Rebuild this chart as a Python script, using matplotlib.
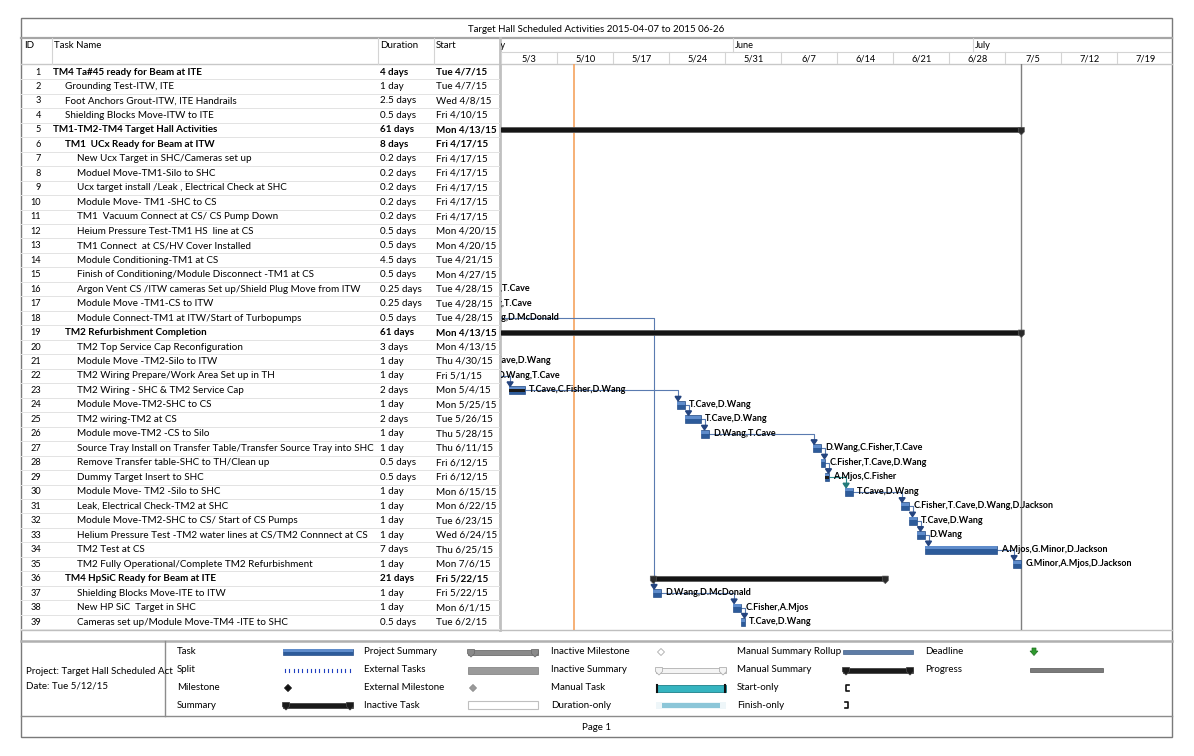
import datetime as dt
import matplotlib
matplotlib.use("Agg")
import matplotlib.pyplot as plt
import matplotlib.dates as mdates
from matplotlib.patches import Polygon, Rectangle

plt.rcParams['font.family'] = ['Lato', 'DejaVu Sans']

task_names = [
    "TM4 Ta#45 ready for Beam at ITE",
    "Grounding Test-ITW, ITE",
    "Foot Anchors Grout-ITW, ITE Handrails",
    "Shielding Blocks Move-ITW to ITE",
    "TM1-TM2-TM4 Target Hall Activities",
    "TM1  UCx Ready for Beam at ITW",
    "New Ucx Target in SHC/Cameras set up",
    "Moduel Move-TM1-Silo to SHC",
    "Ucx target install /Leak , Electrical Check at SHC",
    "Module Move- TM1 -SHC to CS",
    "TM1  Vacuum Connect at CS/ CS Pump Down",
    "Heium Pressure Test-TM1 HS  line at CS",
    "TM1 Connect  at CS/HV Cover Installed",
    "Module Conditioning-TM1 at CS",
    "Finish of Conditioning/Module Disconnect -TM1 at CS",
    "Argon Vent CS /ITW cameras Set up/Shield Plug Move from ITW",
    "Module Move -TM1-CS to ITW",
    "Module Connect-TM1 at ITW/Start of Turbopumps",
    "TM2 Refurbishment Completion",
    "TM2 Top Service Cap Reconfiguration",
    "Module Move -TM2-Silo to ITW",
    "TM2 Wiring Prepare/Work Area Set up in TH",
    "TM2 Wiring - SHC & TM2 Service Cap",
    "Module Move-TM2-SHC to CS",
    "TM2 wiring-TM2 at CS",
    "Module move-TM2 -CS to Silo",
    "Source Tray Install on Transfer Table/Transfer Source Tray into SHC",
    "Remove Transfer table-SHC to TH/Clean up",
    "Dummy Target Insert to SHC",
    "Module Move- TM2 -Silo to SHC",
    "Leak, Electrical Check-TM2 at SHC",
    "Module Move-TM2-SHC to CS/ Start of CS Pumps",
    "Helium Pressure Test -TM2 water lines at CS/TM2 Connnect at CS",
    "TM2 Test at CS",
    "TM2 Fully Operational/Complete TM2 Refurbishment",
    "TM4 HpSiC Ready for Beam at ITE",
    "Shielding Blocks Move-ITE to ITW",
    "New HP SiC  Target in SHC",
    "Cameras set up/Module Move-TM4 -ITE to SHC",
]
levels = [0, 1, 1, 1, 0, 1, 2, 2, 2, 2, 2, 2, 2, 2, 2, 2, 2, 2, 1, 2,
          2, 2, 2, 2, 2, 2, 2, 2, 2, 2, 2, 2, 2, 2, 2, 1, 2, 2, 2]
summary_ids = [1, 5, 6, 19, 36]
durations = ["4 days", "1 day", "2.5 days", "0.5 days", "61 days", "8 days",
             "0.2 days", "0.2 days", "0.2 days", "0.2 days", "0.2 days",
             "0.5 days", "0.5 days", "4.5 days", "0.5 days", "0.25 days",
             "0.25 days", "0.5 days", "61 days", "3 days", "1 day", "1 day",
             "2 days", "1 day", "2 days", "1 day", "1 day", "0.5 days",
             "0.5 days", "1 day", "1 day", "1 day", "1 day", "7 days",
             "1 day", "21 days", "1 day", "1 day", "0.5 days"]
start_labels = ["Tue 4/7/15", "Tue 4/7/15", "Wed 4/8/15", "Fri 4/10/15",
                "Mon 4/13/15", "Fri 4/17/15", "Fri 4/17/15", "Fri 4/17/15",
                "Fri 4/17/15", "Fri 4/17/15", "Fri 4/17/15", "Mon 4/20/15",
                "Mon 4/20/15", "Tue 4/21/15", "Mon 4/27/15", "Tue 4/28/15",
                "Tue 4/28/15", "Tue 4/28/15", "Mon 4/13/15", "Mon 4/13/15",
                "Thu 4/30/15", "Fri 5/1/15", "Mon 5/4/15", "Mon 5/25/15",
                "Tue 5/26/15", "Thu 5/28/15", "Thu 6/11/15", "Fri 6/12/15",
                "Fri 6/12/15", "Mon 6/15/15", "Mon 6/22/15", "Tue 6/23/15",
                "Wed 6/24/15", "Thu 6/25/15", "Mon 7/6/15", "Fri 5/22/15",
                "Fri 5/22/15", "Mon 6/1/15", "Tue 6/2/15"]
bar_starts = ["2015-04-07", "2015-04-07", "2015-04-08", "2015-04-10 12:00",
              "2015-04-13", "2015-04-17", "2015-04-17", "2015-04-17 04:48",
              "2015-04-17 09:36", "2015-04-17 14:24", "2015-04-17 19:12",
              "2015-04-20", "2015-04-20 12:00", "2015-04-21", "2015-04-27 12:00",
              "2015-04-28", "2015-04-28 06:00", "2015-04-28 12:00", "2015-04-13",
              "2015-04-13", "2015-04-30", "2015-05-01", "2015-05-04",
              "2015-05-25", "2015-05-26", "2015-05-28", "2015-06-11",
              "2015-06-12", "2015-06-12 12:00", "2015-06-15", "2015-06-22",
              "2015-06-23", "2015-06-24", "2015-06-25", "2015-07-06",
              "2015-05-22", "2015-05-22", "2015-06-01", "2015-06-02"]
bar_finishes = ["2015-04-11", "2015-04-08", "2015-04-10 12:00", "2015-04-11",
                "2015-07-07", "2015-04-29", "2015-04-17 04:48", "2015-04-17 09:36",
                "2015-04-17 14:24", "2015-04-17 19:12", "2015-04-18",
                "2015-04-20 12:00", "2015-04-21", "2015-04-27 12:00", "2015-04-28",
                "2015-04-28 06:00", "2015-04-28 12:00", "2015-04-29", "2015-07-07",
                "2015-04-16", "2015-05-01", "2015-05-02", "2015-05-06",
                "2015-05-26", "2015-05-28", "2015-05-29", "2015-06-12",
                "2015-06-12 12:00", "2015-06-13", "2015-06-16", "2015-06-23",
                "2015-06-24", "2015-06-25", "2015-07-04", "2015-07-07",
                "2015-06-20", "2015-05-23", "2015-06-02", "2015-06-02 12:00"]
pct_complete = [100] * 23 + [0] * 16
pct_complete[28] = 100
resources = [None] * 15 + ["D.Wang,T.Cave", "D.Wang,T.Cave", "D.Wang,D.McDonald",
             None, None, "T.Cave,D.Wang", "D.Wang,T.Cave", "T.Cave,C.Fisher,D.Wang",
             "T.Cave,D.Wang", "T.Cave,D.Wang", "D.Wang,T.Cave",
             "D.Wang,C.Fisher,T.Cave", "C.Fisher,T.Cave,D.Wang", "A.Mjos,C.Fisher",
             "T.Cave,D.Wang", "C.Fisher,T.Cave,D.Wang,D.Jackson", "T.Cave,D.Wang",
             "D.Wang", "A.Mjos,G.Minor,D.Jackson", "G.Minor,A.Mjos,D.Jackson",
             None, "D.Wang,D.McDonald", "C.Fisher,A.Mjos", "T.Cave,D.Wang"]
links = [(16, 17), (17, 18), (21, 22), (18, 37), (22, 23), (23, 24), (24, 25),
         (25, 26), (26, 27), (27, 28), (28, 29), (29, 30), (30, 31), (31, 32),
         (32, 33), (33, 34), (34, 35), (37, 38), (38, 39)]
teal_links = [(29, 30)]
status_date = "2015-05-12 02:00"
project_finish = "2015-07-07"
week_starts = ["2015-05-03", "2015-05-10", "2015-05-17", "2015-05-24", "2015-05-31",
               "2015-06-07", "2015-06-14", "2015-06-21", "2015-06-28", "2015-07-05",
               "2015-07-12", "2015-07-19"]
week_labels = ["5/3", "5/10", "5/17", "5/24", "5/31", "6/7", "6/14", "6/21",
               "6/28", "7/5", "7/12", "7/19"]
month_starts = ["2015-05-01", "2015-06-01", "2015-07-01"]
month_labels = ["May", "June", "July"]

title = "Target Hall Scheduled Activities 2015-04-07 to 2015 06-26"


def num(s):
    return mdates.date2num(dt.datetime.fromisoformat(s))


W, H = 1194, 756
fig = plt.figure(figsize=(W / 100, H / 100), dpi=100)


def frect(x0, y0, x1, y1):
    return [x0 / W, 1 - y1 / H, (x1 - x0) / W, (y1 - y0) / H]


# page layout (pixels)
bg = fig.add_axes([0, 0, 1, 1])
bg.set_xlim(0, W)
bg.set_ylim(H, 0)
bg.axis('off')

FS = 7
TFS = 7.1  # table text
light = '#d4d4d4'
bg.add_patch(Rectangle((21, 18), 1172 - 21, 737 - 18, fill=False, ec='#7a7a7a', lw=1.0))
bg.plot([21, 1172], [38, 38], color='#a6a6a6', lw=1.6)
bg.plot([21, 1172], [64, 64], color='#c8c8c8', lw=1.0)
bg.plot([500, 500], [38, 630], color='#c0c0c0', lw=2.0)
for xc in (52, 378, 434):
    bg.plot([xc, xc], [38, 64], color=light, lw=0.8)
bg.plot([21, 1172], [630, 630], color='#bfbfbf', lw=1.0)
bg.plot([21, 1172], [641, 641], color='#b0b0b0', lw=1.8)
bg.plot([21, 1172], [716, 716], color='#8c8c8c', lw=1.0)
bg.plot([165, 165], [641, 716], color='#8c8c8c', lw=1.0)
bg.text(596.5, 29, title, ha='center', va='center', fontsize=FS)
bg.text(24, 46, "ID", va='center', fontsize=FS)
bg.text(54, 46, "Task Name", va='center', fontsize=FS)
bg.text(380, 46, "Duration", va='center', fontsize=FS)
bg.text(436, 46, "Start", va='center', fontsize=FS)
bg.text(596.5, 727, "Page 1", ha='center', va='center', fontsize=FS)
bg.text(26, 672, "Project: Target Hall Scheduled Act", va='center', fontsize=FS)
bg.text(26, 686, "Date: Tue 5/12/15", va='center', fontsize=FS)

# rows share one scale: row 1 at y=72 px, 14.474 px per row
ROW_PX = 14.474
row_top = 1 + (64 - 72) / ROW_PX
row_bot = 1 + (630 - 72) / ROW_PX
RPX = 1 / ROW_PX

# ---- table ----
tab = fig.add_axes(frect(21, 64, 500, 630))
tab.set_xlim(21, 500)
tab.set_ylim(row_bot, row_top)
tab.axis('off')
n = len(task_names)
for i in range(n):
    r = i + 1
    bold = 'bold' if r in summary_ids else 'normal'
    tab.text(41, r, str(r), ha='right', va='center', fontsize=TFS - 0.5)
    tab.text(53 + 12 * levels[i], r, task_names[i], va='center', fontsize=TFS, fontweight=bold)
    tab.text(380, r, durations[i], va='center', fontsize=TFS, fontweight=bold)
    tab.text(436, r, start_labels[i], va='center', fontsize=TFS, fontweight=bold)
    tab.plot([21, 500], [r + 0.5, r + 0.5], color='#e3e3e3', lw=0.7)

# ---- timescale header ----
x0 = num("2015-05-10") - (557.3 - 501) / 8
x1 = num("2015-05-10") + (1172 - 557.3) / 8
DPX = 1 / 8.0

hdr = fig.add_axes(frect(501, 38, 1172, 64))
hdr.set_xlim(x0, x1)
hdr.set_ylim(64, 38)
hdr.axis('off')
hdr.plot([x0, x1], [52, 52], color=light, lw=0.8)
for ms, ml in zip(month_starts, month_labels):
    m = num(ms)
    hdr.plot([m, m], [38, 52], color=light, lw=0.8)
    hdr.text(m + 2 * DPX, 46, ml, va='center', fontsize=FS - 0.3, clip_on=True)
for ws, wl in zip(week_starts, week_labels):
    w = num(ws)
    hdr.plot([w, w], [52, 64], color=light, lw=0.8)
    hdr.text(w + 3.5, 58.5, wl, ha='center', va='center', fontsize=FS - 0.3, clip_on=True)
hdr.plot([num("2015-07-26")] * 2, [52, 64], color=light, lw=0.8)

# ---- gantt ----
ax = fig.add_axes(frect(501, 64, 1172, 630))
ax.set_xlim(x0, x1)
ax.set_ylim(row_bot, row_top)
ax.axis('off')

starts = [num(s) for s in bar_starts]
finishes = [num(s) for s in bar_finishes]

ax.axvline(num(status_date), color='#f5a35f', lw=1.2, zorder=1)
ax.axvline(num(project_finish), color='#7f7f7f', lw=1.0, zorder=1)

for (p, s) in links:
    col = '#2c8c8c' if (p, s) in teal_links else '#5a7bb0'
    head = '#237a7a' if (p, s) in teal_links else '#24447f'
    xe = finishes[p - 1]
    xa = max(starts[s - 1] + 0.1, xe + 0.4)
    ytop = s - 4 * RPX
    ax.plot([xe, xa, xa], [p, p, ytop - 3 * RPX], color=col, lw=0.8, zorder=2)
    ax.add_patch(Polygon([(xa - 3 * DPX, ytop - 4.5 * RPX), (xa + 3 * DPX, ytop - 4.5 * RPX),
                          (xa, ytop)], closed=True, color=head, zorder=5))

for i in range(n):
    r = i + 1
    s, f = starts[i], finishes[i]
    if r in summary_ids:
        ax.barh(r, f - s, left=s, height=5 * RPX, color='#141414', ec='#5a5a5a', lw=0.6, zorder=3)
        for xe in (s, f):
            ax.add_patch(Polygon([(xe - 3 * DPX, r - 2.5 * RPX), (xe + 3 * DPX, r - 2.5 * RPX),
                                  (xe + 3 * DPX, r + 2 * RPX), (xe, r + 5 * RPX),
                                  (xe - 3 * DPX, r + 2 * RPX)],
                                 closed=True, fc='#2a2a2a', ec='#555555', lw=0.5, zorder=4))
    else:
        ax.barh(r, f - s, left=s, height=8 * RPX, color='#2d5b9a', ec='#27508a', lw=0.5, zorder=3)
        ax.barh(r - 1.8 * RPX, f - s, left=s, height=3 * RPX, color='#5f8ccb', lw=0, zorder=3)
        if pct_complete[i] > 0:
            ax.barh(r, (f - s) * pct_complete[i] / 100, left=s, height=3 * RPX,
                    color='#1a1a1a', lw=0, zorder=4)
    if resources[i]:
        ax.text(f + 4 * DPX, r - 0.5 * RPX, resources[i], va='center', fontsize=FS - 0.5,
                fontweight='bold', clip_on=True, zorder=6)

# ---- legend ----
leg_labels = [
    ["Task", "Split", "Milestone", "Summary"],
    ["Project Summary", "External Tasks", "External Milestone", "Inactive Task"],
    ["Inactive Milestone", "Inactive Summary", "Manual Task", "Duration-only"],
    ["Manual Summary Rollup", "Manual Summary", "Start-only", "Finish-only"],
    ["Deadline", "Progress"],
]
leg_kinds = [
    ["task", "split", "milestone", "summary"],
    ["proj_summary", "external", "ext_milestone", "inactive_task"],
    ["inactive_milestone", "inactive_summary", "manual_task", "duration_only"],
    ["manual_rollup", "manual_summary", "start_only", "finish_only"],
    ["deadline", "progress"],
]
leg_text_x = [177, 364, 551, 737, 925]
leg_sym_x = [283, 468, 656, 843, 1030]
leg_rows_y = [652, 670, 688, 705]
SYM_W = 70


def capped_bar(xa, xb, y, fc, ec):
    bg.add_patch(Rectangle((xa, y - 2.5), xb - xa, 5, fc=fc, ec=ec, lw=0.6))
    for xe in (xa + 3, xb - 3):
        bg.add_patch(Polygon([(xe - 3.5, y - 2.5), (xe + 3.5, y - 2.5), (xe + 3.5, y + 1.5),
                              (xe, y + 5), (xe - 3.5, y + 1.5)], closed=True, fc=fc, ec=ec, lw=0.6))


def diamond(x, y, fc, ec):
    bg.add_patch(Polygon([(x, y - 3.5), (x + 3.5, y), (x, y + 3.5), (x - 3.5, y)],
                         closed=True, fc=fc, ec=ec, lw=0.6))


def draw_symbol(kind, xa, y):
    xb = xa + SYM_W
    if kind == "task":
        bg.add_patch(Rectangle((xa, y - 3), SYM_W, 6, fc='#2d5b9a', ec='#27508a', lw=0.5))
        bg.add_patch(Rectangle((xa, y - 3), SYM_W, 2.5, fc='#5f8ccb', lw=0))
    elif kind == "split":
        for k in range(16):
            bg.plot([xa + 2 + k * 4.3] * 2, [y - 1.5, y + 1.5], color='#1f3fbf', lw=0.8)
    elif kind == "milestone":
        diamond(xa + 5, y, '#111111', '#111111')
    elif kind == "summary":
        capped_bar(xa, xb, y, '#1a1a1a', '#444444')
    elif kind == "proj_summary":
        capped_bar(xa, xb, y, '#8a8a8a', '#6e6e6e')
    elif kind == "external":
        bg.add_patch(Rectangle((xa, y - 3.5), SYM_W, 7, fc='#9a9a9a', ec='#7a7a7a', lw=0.5))
    elif kind == "ext_milestone":
        diamond(xa + 5, y, '#9a9a9a', '#8a8a8a')
    elif kind == "inactive_task":
        bg.add_patch(Rectangle((xa, y - 4), SYM_W, 8, fc='white', ec='#bfbfbf', lw=0.8))
    elif kind == "inactive_milestone":
        diamond(xa + 5, y, 'white', '#aaaaaa')
    elif kind == "inactive_summary":
        capped_bar(xa, xb, y, '#f4f4f4', '#b0b0b0')
    elif kind == "manual_task":
        bg.add_patch(Rectangle((xa, y - 3.5), SYM_W, 7, fc='#35b4c0', ec='#1d7f88', lw=0.6))
        bg.plot([xa + 1, xa + 1], [y - 3.5, y + 3.5], color='#111111', lw=1.5)
        bg.plot([xb - 1, xb - 1], [y - 3.5, y + 3.5], color='#111111', lw=1.5)
    elif kind == "duration_only":
        bg.add_patch(Rectangle((xa, y - 3.5), SYM_W, 7, fc='#eef6f9', lw=0))
        bg.add_patch(Rectangle((xa + 6, y - 2.5), SYM_W - 12, 5, fc='#8cc6d8', lw=0))
    elif kind == "manual_rollup":
        bg.add_patch(Rectangle((xa, y - 2), SYM_W, 4, fc='#5e7ca6', ec='#40608a', lw=0.5))
    elif kind == "manual_summary":
        capped_bar(xa, xb, y, '#1a1a1a', '#444444')
    elif kind == "start_only":
        bg.plot([xa + 6, xa + 3, xa + 3, xa + 6], [y - 3, y - 3, y + 3, y + 3], color='#111111', lw=1.2)
    elif kind == "finish_only":
        bg.plot([xa + 2, xa + 5, xa + 5, xa + 2], [y - 3, y - 3, y + 3, y + 3], color='#111111', lw=1.2)
    elif kind == "deadline":
        bg.add_patch(Polygon([(xa + 2, y - 4), (xa + 6, y - 4), (xa + 6, y - 1), (xa + 8, y - 1),
                              (xa + 4, y + 3.5), (xa, y - 1), (xa + 2, y - 1)],
                             closed=True, fc='#2e9a2e', ec='#1f6f1f', lw=0.5))
    elif kind == "progress":
        bg.add_patch(Rectangle((xa, y - 2), 73, 4, fc='#7a7a7a', ec='#555555', lw=0.5))


for c in range(len(leg_labels)):
    for j, (lab, kind) in enumerate(zip(leg_labels[c], leg_kinds[c])):
        y = leg_rows_y[j]
        bg.text(leg_text_x[c], y, lab, va='center', fontsize=FS)
        draw_symbol(kind, leg_sym_x[c], y)

fig.savefig("out.png", dpi=100)
